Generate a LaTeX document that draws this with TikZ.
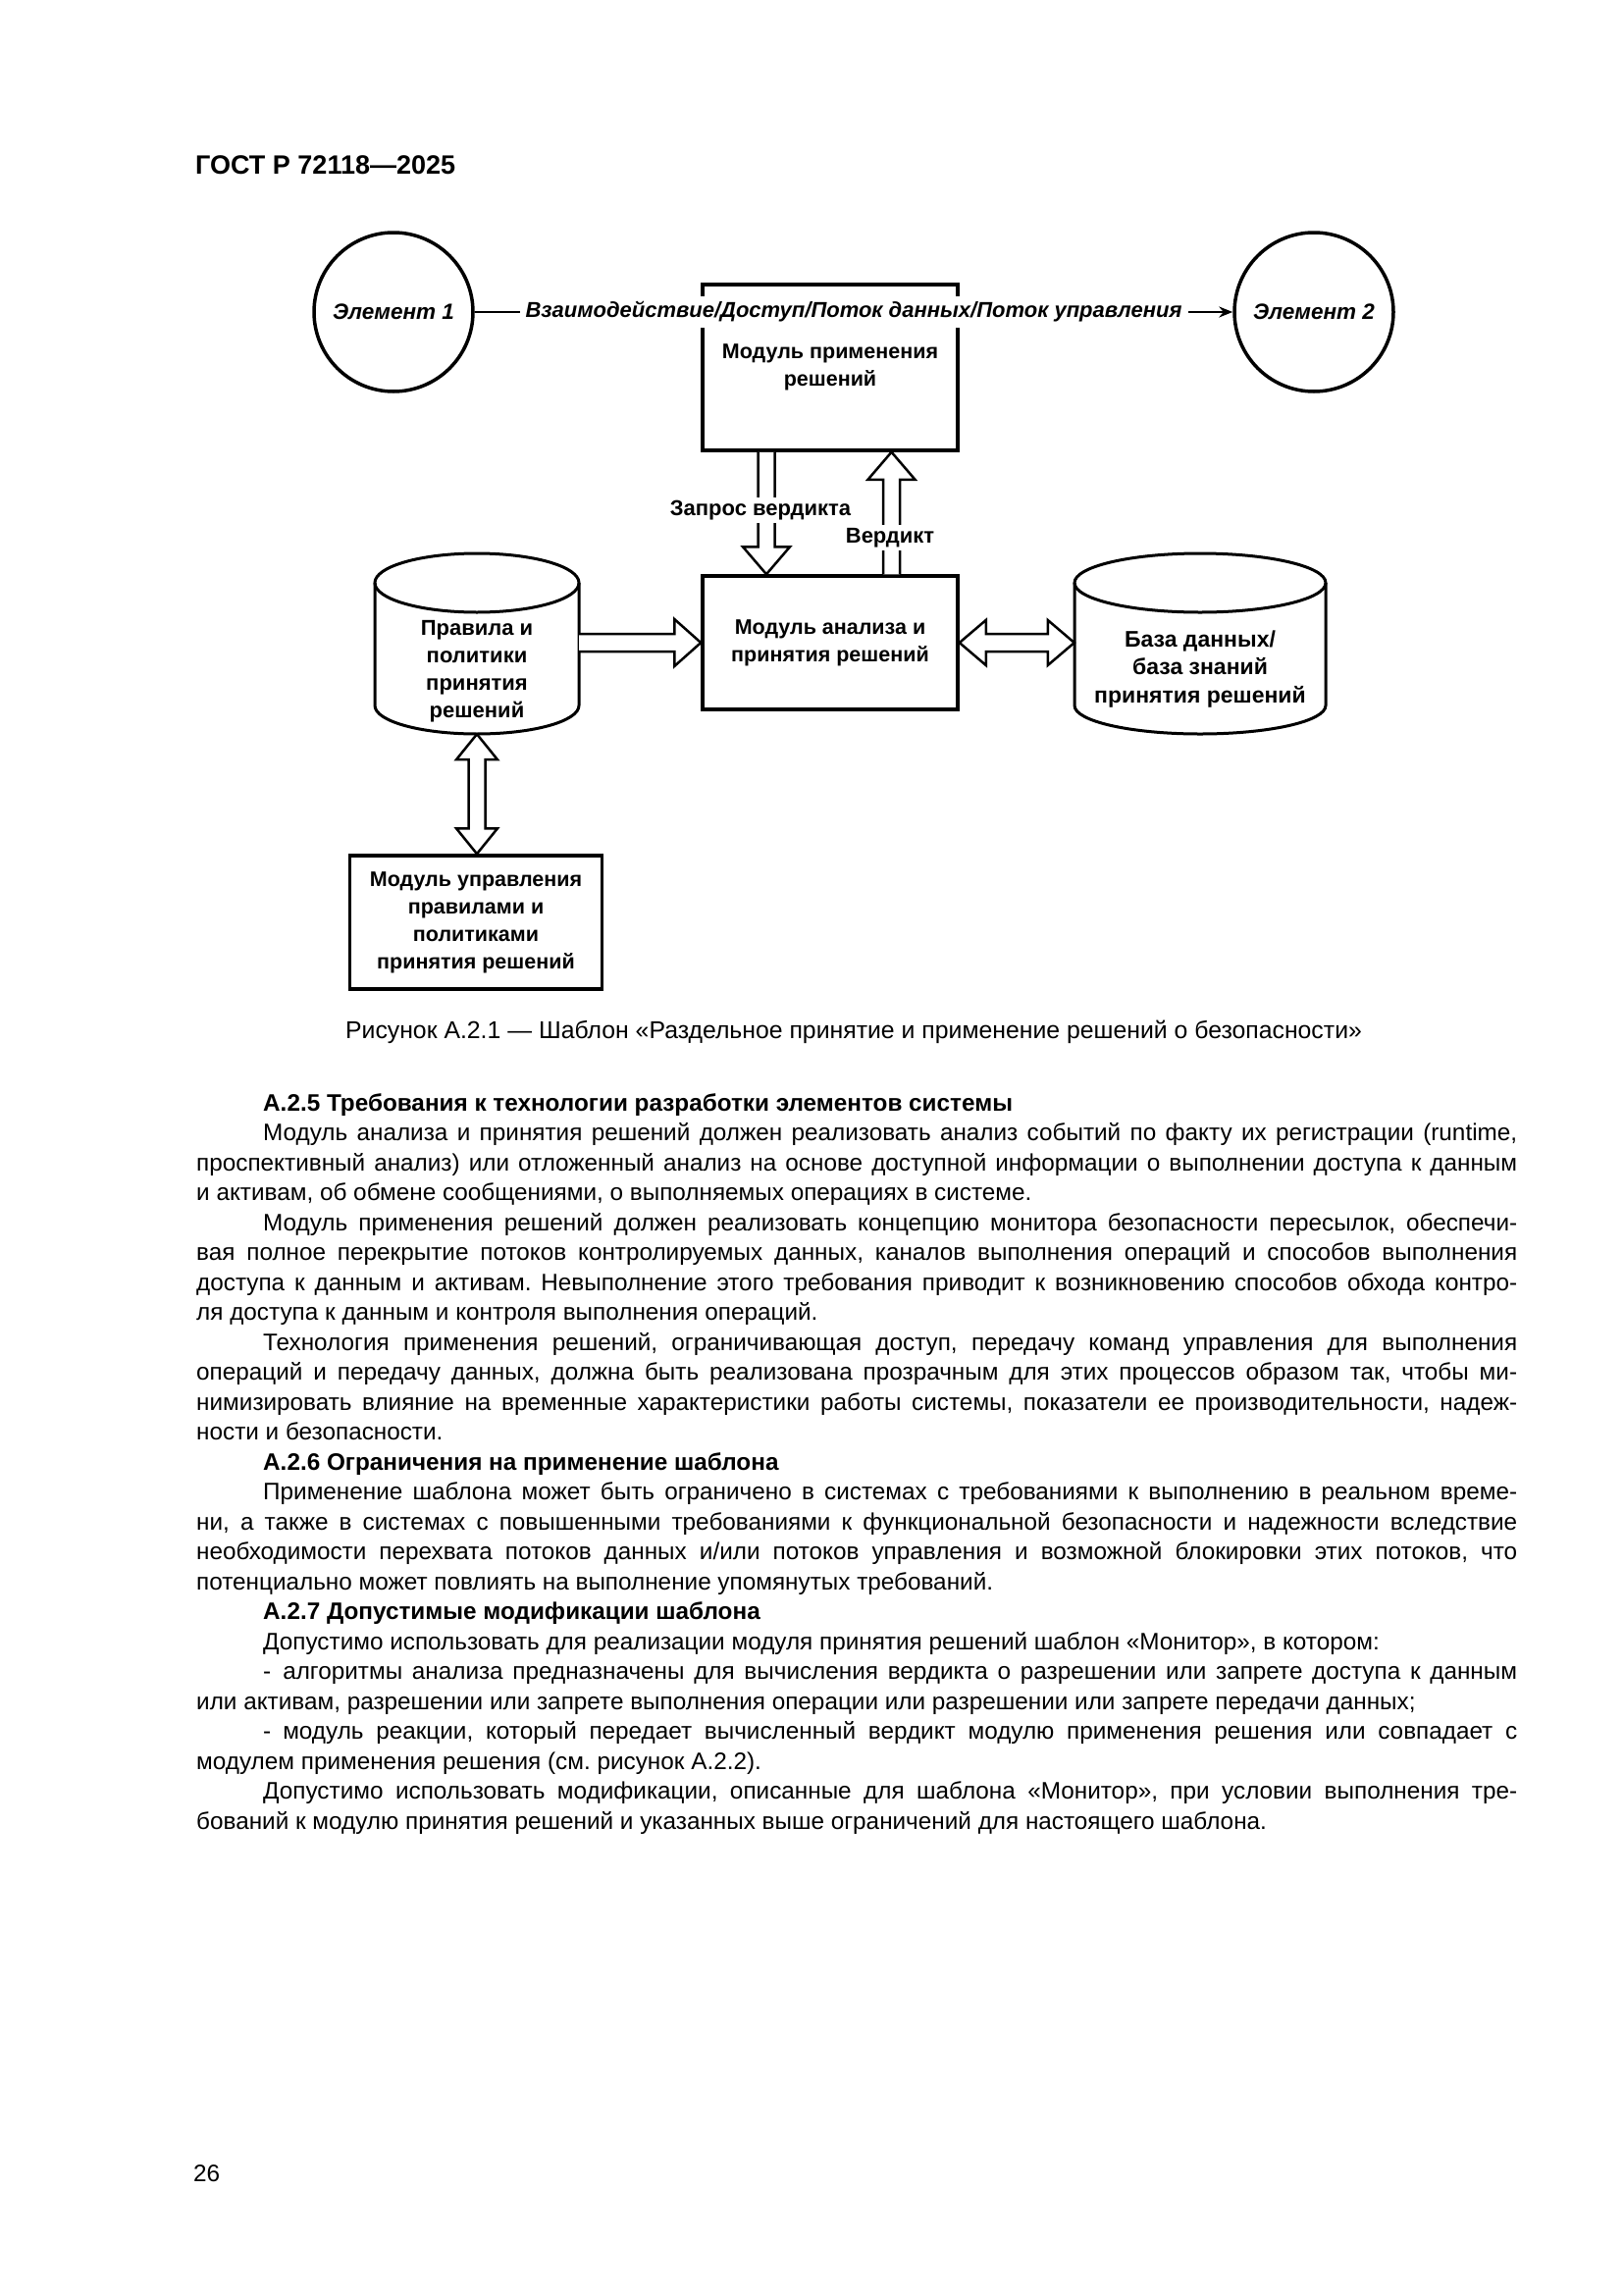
\documentclass[tikz,border=0pt]{standalone}
\usepackage{fontspec}
\setmainfont{Liberation Sans}
\usetikzlibrary{calc,arrows.meta}
\newcommand\dfont{\fontsize{21.5}{28}\selectfont\bfseries}
\newcommand\cfont{\fontsize{22}{28}\selectfont\bfseries}
\newcommand\bodyfont{\fontsize{24.3}{30.5}\selectfont}
\newcommand\myind{\hspace*{68pt}}
\newcommand\justl[1]{\makebox[\linewidth][s]{#1}\\}
\newcommand\lastl[1]{\makebox[\linewidth][l]{#1}\\}
\newcommand\finl[1]{\makebox[\linewidth][l]{#1}}
\frenchspacing
\begin{document}
\begin{tikzpicture}[x=1pt,y=-1pt,
  box/.style={draw, line width=3.5pt, minimum width=260pt, align=center, font=\dfont, inner sep=2pt},
  circ/.style={circle, draw, line width=3.5pt, minimum size=162pt, inner sep=0pt, font=\fontsize{22.5}{28}\selectfont\bfseries\itshape},
  flow/.style={line width=2.2pt, -{Stealth[length=14pt,width=11pt]}},
  flowlab/.style={fill=white, inner xsep=6pt, inner ysep=5pt, font=\fontsize{22}{28}\selectfont\bfseries\itshape},
  cyl/.style={line width=3pt},
  dtext/.style={align=center, font=\cfont, inner sep=0pt},
  lab/.style={fill=white, font=\cfont, inner sep=3pt},
  hollow/.style={draw, fill=white, line width=2.5pt, line join=miter}]
\fill[white] (0,0) rectangle (1654,2339);
\useasboundingbox (0,0) rectangle (1654,2339);

% header
\node[anchor=base west, inner sep=0pt, font=\fontsize{27}{30}\selectfont\bfseries] (hdr) at (199,177) {ГОСТ Р 72118—2025};

% top row
\node[box, minimum height=169pt] (apply) at (846,374.5) {Модуль применения\\решений};
\node[circ] (e1) at (401,318) {Элемент 1};
\node[circ] (e2) at (1339,318) {Элемент 2};
\draw[flow] (e1) -- node[flowlab] (flowtxt) {Взаимодействие/Доступ/Поток данных/Поток управления} (e2);

% middle row
\node[box, minimum height=136pt] (analysis) at (846,655) {Модуль анализа и\\принятия решений};

% left cylinder
\draw[cyl] (486,594) ellipse[x radius=104, y radius=30];
\draw[cyl] (382,594) -- (382,719) arc[start angle=180, end angle=0, x radius=104, y radius=29] -- (590,594);
\node[inner sep=0pt, minimum width=208pt, minimum height=184pt] (rules) at (486,656) {};
\node[dtext] (rulestxt) at (486,684) {Правила и\\политики\\принятия\\решений};

% right cylinder
\draw[cyl] (1223,594) ellipse[x radius=128, y radius=30];
\draw[cyl] (1095,594) -- (1095,719) arc[start angle=180, end angle=0, x radius=128, y radius=29] -- (1351,594);
\node[inner sep=0pt, minimum width=256pt, minimum height=184pt] (db) at (1223,656) {};
\node[dtext, font=\fontsize{23}{28.5}\selectfont\bfseries] (dbtxt) at (1223,682) {База данных/\\база знаний\\принятия решений};

% bottom box
\node[box, minimum width=257pt, minimum height=136pt] (ctrl) at (485,940) {Модуль управления\\правилами и\\политиками\\принятия решений};

% arrow rules -> analysis
\coordinate (aS) at (rules.east |- analysis.west);
\coordinate (aT) at (analysis.west);
\draw[hollow] ($(aS)+(0,-9)$) -- ($(aT)+(-27,-9)$) -- ($(aT)+(-27,-24)$) -- (aT) -- ($(aT)+(-27,24)$) -- ($(aT)+(-27,9)$) -- ($(aS)+(0,9)$);

% double arrow analysis <-> db
\coordinate (bL) at (analysis.east);
\coordinate (bR) at (analysis.east -| db.west);
\draw[hollow] (bL) -- ($(bL)+(27,-23)$) -- ($(bL)+(27,-9)$) -- ($(bR)+(-27,-9)$) -- ($(bR)+(-27,-23)$) -- (bR) -- ($(bR)+(-27,23)$) -- ($(bR)+(-27,9)$) -- ($(bL)+(27,9)$) -- ($(bL)+(27,23)$) -- cycle;

% request arrow (down)
\coordinate (cS) at ($(apply.south)+(-65,0)$);
\coordinate (cT) at ($(analysis.north)+(-65,0)$);
\draw[hollow] ($(cS)+(-8.5,0)$) -- ($(cT)+(-8.5,-28)$) -- ($(cT)+(-24,-28)$) -- (cT) -- ($(cT)+(24,-28)$) -- ($(cT)+(8.5,-28)$) -- ($(cS)+(8.5,0)$);

% verdict arrow (up)
\coordinate (dS) at ($(analysis.north)+(62.5,0)$);
\coordinate (dT) at ($(apply.south)+(62.5,0)$);
\draw[hollow] ($(dS)+(-8.5,0)$) -- ($(dT)+(-8.5,28)$) -- ($(dT)+(-24,28)$) -- (dT) -- ($(dT)+(24,28)$) -- ($(dT)+(8.5,28)$) -- ($(dS)+(8.5,0)$);

\node[lab] (qlab) at (775,520) {Запрос вердикта};
\node[lab] (vlab) at (907,548) {Вердикт};

% double arrow rules <-> ctrl
\coordinate (eT) at (rules.south);
\coordinate (eB) at (ctrl.north -| rules.south);
\draw[hollow] (eT) -- ($(eT)+(21,26)$) -- ($(eT)+(8.5,26)$) -- ($(eB)+(8.5,-26)$) -- ($(eB)+(21,-26)$) -- (eB) -- ($(eB)+(-21,-26)$) -- ($(eB)+(-8.5,-26)$) -- ($(eT)+(-8.5,26)$) -- ($(eT)+(-21,26)$) -- cycle;

% caption
\node[anchor=base, inner sep=0pt, font=\fontsize{24.8}{30}\selectfont] (cap) at (870,1058) {Рисунок А.2.1 — Шаблон «Раздельное принятие и применение решений о безопасности»};

% body text
\node[anchor=base west, inner sep=0pt, text width=1346pt, font=\bodyfont] (body) at (200,1132) {%
\noindent\spaceskip=0.278em plus 0.5em minus 0.18em\relax
\lastl{\myind\bfseries А.2.5 Требования к технологии разработки элементов системы}
\justl{\myind Модуль анализа и принятия решений должен реализовать анализ событий по факту их регистрации (runtime,}
\justl{проспективный анализ) или отложенный анализ на основе доступной информации о выполнении доступа к данным}
\lastl{и активам, об обмене сообщениями, о выполняемых операциях в системе.}
\justl{\myind Модуль применения решений должен реализовать концепцию монитора безопасности пересылок, обеспечи-}
\justl{вая полное перекрытие потоков контролируемых данных, каналов выполнения операций и способов выполнения}
\justl{доступа к данным и активам. Невыполнение этого требования приводит к возникновению способов обхода контро-}
\lastl{ля доступа к данным и контроля выполнения операций.}
\justl{\myind Технология применения решений, ограничивающая доступ, передачу команд управления для выполнения}
\justl{операций и передачу данных, должна быть реализована прозрачным для этих процессов образом так, чтобы ми-}
\justl{нимизировать влияние на временные характеристики работы системы, показатели ее производительности, надеж-}
\lastl{ности и безопасности.}
\lastl{\myind\bfseries А.2.6 Ограничения на применение шаблона}
\justl{\myind Применение шаблона может быть ограничено в системах с требованиями к выполнению в реальном време-}
\justl{ни, а также в системах с повышенными требованиями к функциональной безопасности и надежности вследствие}
\justl{необходимости перехвата потоков данных и/или потоков управления и возможной блокировки этих потоков, что}
\lastl{потенциально может повлиять на выполнение упомянутых требований.}
\lastl{\myind\bfseries А.2.7 Допустимые модификации шаблона}
\lastl{\myind Допустимо использовать для реализации модуля принятия решений шаблон «Монитор», в котором:}
\justl{\myind -\hspace*{12pt}алгоритмы анализа предназначены для вычисления вердикта о разрешении или запрете доступа к данным}
\lastl{или активам, разрешении или запрете выполнения операции или разрешении или запрете передачи данных;}
\justl{\myind -\hspace*{12pt}модуль реакции, который передает вычисленный вердикт модулю применения решения или совпадает с}
\lastl{модулем применения решения (см. рисунок А.2.2).}
\justl{\myind Допустимо использовать модификации, описанные для шаблона «Монитор», при условии выполнения тре-}
\finl{бований к модулю принятия решений и указанных выше ограничений для настоящего шаблона.}%
};

% page number
\node[anchor=base west, inner sep=0pt, font=\bodyfont] (pnum) at (197,2223) {26};
\end{tikzpicture}
\end{document}
